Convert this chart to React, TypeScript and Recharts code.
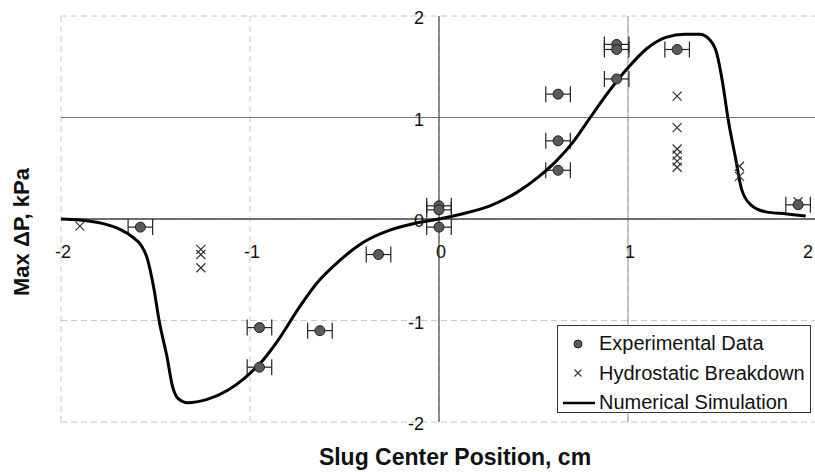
import React from 'react';
import { ScatterChart, Scatter, XAxis, YAxis, CartesianGrid, ReferenceLine, ErrorBar, Legend } from 'recharts';

const xTicks = [-2, -1, 0, 1, 2];
const yTicks = [-2, -1, 0, 1, 2];
const xError = 0.065;

const experimentalData = [
  { x: -1.58, y: -0.08 },
  { x: -0.95, y: -1.07 },
  { x: -0.95, y: -1.46 },
  { x: -0.63, y: -1.1 },
  { x: -0.32, y: -0.35 },
  { x: 0.0, y: 0.13 },
  { x: 0.0, y: 0.09 },
  { x: 0.0, y: -0.08 },
  { x: 0.63, y: 1.23 },
  { x: 0.63, y: 0.77 },
  { x: 0.63, y: 0.48 },
  { x: 0.94, y: 1.72 },
  { x: 0.94, y: 1.67 },
  { x: 0.94, y: 1.38 },
  { x: 1.26, y: 1.67 },
  { x: 1.9, y: 0.14 },
];

const hydrostaticData = [
  { x: -1.9, y: -0.07 },
  { x: -1.26, y: -0.3 },
  { x: -1.26, y: -0.35 },
  { x: -1.26, y: -0.48 },
  { x: 1.26, y: 1.21 },
  { x: 1.26, y: 0.9 },
  { x: 1.26, y: 0.69 },
  { x: 1.26, y: 0.63 },
  { x: 1.26, y: 0.57 },
  { x: 1.26, y: 0.51 },
  { x: 1.59, y: 0.52 },
  { x: 1.59, y: 0.42 },
  { x: 1.9, y: 0.17 },
];

const simulationData = [
  { x: -2.0, y: 0.0 },
  { x: -1.9, y: -0.01 },
  { x: -1.79, y: -0.04 },
  { x: -1.69, y: -0.1 },
  { x: -1.62, y: -0.18 },
  { x: -1.58, y: -0.25 },
  { x: -1.545, y: -0.38 },
  { x: -1.51, y: -0.67 },
  { x: -1.48, y: -1.01 },
  { x: -1.44, y: -1.35 },
  { x: -1.41, y: -1.65 },
  { x: -1.38, y: -1.77 },
  { x: -1.33, y: -1.81 },
  { x: -1.23, y: -1.78 },
  { x: -1.12, y: -1.69 },
  { x: -1.03, y: -1.57 },
  { x: -0.95, y: -1.43 },
  { x: -0.85, y: -1.19 },
  { x: -0.75, y: -0.9 },
  { x: -0.65, y: -0.64 },
  { x: -0.52, y: -0.4 },
  { x: -0.4, y: -0.23 },
  { x: -0.26, y: -0.11 },
  { x: -0.12, y: -0.04 },
  { x: 0.0, y: 0.0 },
  { x: 0.12, y: 0.05 },
  { x: 0.27, y: 0.13 },
  { x: 0.41, y: 0.26 },
  { x: 0.53, y: 0.42 },
  { x: 0.62, y: 0.57 },
  { x: 0.71, y: 0.76 },
  { x: 0.8, y: 1.0 },
  { x: 0.9, y: 1.26 },
  { x: 1.0, y: 1.49 },
  { x: 1.1, y: 1.68 },
  { x: 1.2, y: 1.79 },
  { x: 1.3, y: 1.82 },
  { x: 1.38, y: 1.82 },
  { x: 1.43, y: 1.77 },
  { x: 1.47, y: 1.63 },
  { x: 1.5, y: 1.35 },
  { x: 1.53, y: 0.98 },
  { x: 1.57, y: 0.59 },
  { x: 1.6, y: 0.3 },
  { x: 1.65, y: 0.14 },
  { x: 1.73, y: 0.07 },
  { x: 1.84, y: 0.05 },
  { x: 1.94, y: 0.03 },
];

const legendLabels = ['Experimental Data', 'Hydrostatic Breakdown', 'Numerical Simulation'];

const CHART_W = 830;
const CHART_H = 472;
const VISIBLE_W = 815;
const X_AXIS_H = 30;
const Y_AXIS_W = 30;
const M = { top: 16, right: 13, bottom: 50 - X_AXIS_H, left: 61 - Y_AXIS_W };
const PLOT_LEFT = M.left + Y_AXIS_W;
const PLOT_BOTTOM_PAD = M.bottom + X_AXIS_H;
const ZERO_X = PLOT_LEFT + (CHART_W - PLOT_LEFT - M.right) / 2;
const ZERO_Y = M.top + (CHART_H - M.top - PLOT_BOTTOM_PAD) / 2;
const FONT = '"Liberation Sans", Arial, sans-serif';

const XTick = (props: any) => {
  const { x, payload } = props;
  const atEdge = x + 10 > VISIBLE_W;
  return (
    <text
      x={atEdge ? VISIBLE_W - 2 : x + 2}
      y={ZERO_Y + 39}
      textAnchor={atEdge ? 'end' : 'middle'}
      fontSize={18}
      fontFamily={FONT}
      fill="#111"
    >
      {payload.value}
    </text>
  );
};

const YTick = (props: any) => {
  const { y, payload } = props;
  return (
    <text x={ZERO_X - 15} y={y + 2} textAnchor="end" dominantBaseline="central" fontSize={18} fontFamily={FONT} fill="#111">
      {payload.value}
    </text>
  );
};

const renderDot = (props: any) => (
  <circle cx={props.cx} cy={props.cy} r={5} fill="#5a5a5a" stroke="#222" strokeWidth={1} />
);

const renderCross = (props: any) => {
  const { cx, cy } = props;
  const s = 4.5;
  return (
    <g stroke="#333" strokeWidth={1.2}>
      <line x1={cx - s} y1={cy - s} x2={cx + s} y2={cy + s} />
      <line x1={cx - s} y1={cy + s} x2={cx + s} y2={cy - s} />
    </g>
  );
};

const renderNone = () => <g />;

const LegendBox = () => (
  <div
    style={{
      width: 254,
      height: 88,
      boxSizing: 'border-box',
      border: '1px solid #333',
      background: '#fff',
      paddingTop: 3,
      fontFamily: FONT,
      fontSize: 20,
      color: '#111',
    }}
  >
    {legendLabels.map((label, i) => (
      <div key={label} style={{ display: 'flex', alignItems: 'center', height: 29.5 }}>
        <svg width={41} height={20} style={{ flex: '0 0 auto' }}>
          {i === 0 && <circle cx={20} cy={10} r={4} fill="#5a5a5a" stroke="#222" strokeWidth={1} />}
          {i === 1 && (
            <g stroke="#333" strokeWidth={1.1}>
              <line x1={16.5} y1={6.5} x2={23.5} y2={13.5} />
              <line x1={16.5} y1={13.5} x2={23.5} y2={6.5} />
            </g>
          )}
          {i === 2 && <line x1={5} y1={10} x2={37} y2={10} stroke="#000" strokeWidth={2.5} />}
        </svg>
        <span style={{ whiteSpace: 'nowrap' }}>{label}</span>
      </div>
    ))}
  </div>
);

export default function App() {
  const expWithErr = experimentalData.map((p) => ({ ...p, err: xError }));
  return (
    <div style={{ position: 'absolute', left: 0, top: 0, width: VISIBLE_W, height: 472, overflow: 'hidden', background: '#fff' }}>
      <ScatterChart width={CHART_W} height={CHART_H} margin={M}>
        <CartesianGrid stroke="#c8c8c8" strokeDasharray="6 4" />
        <XAxis
          type="number"
          dataKey="x"
          domain={[-2, 2]}
          ticks={xTicks}
          interval={0}
          height={X_AXIS_H}
          axisLine={false}
          tickLine={false}
          tick={XTick}
          allowDataOverflow
        />
        <YAxis
          type="number"
          dataKey="y"
          domain={[-2, 2]}
          ticks={yTicks}
          interval={0}
          width={Y_AXIS_W}
          axisLine={false}
          tickLine={false}
          tick={YTick}
          allowDataOverflow
        />
        <ReferenceLine y={1} stroke="#777" strokeWidth={1.2} />
        <ReferenceLine x={1} stroke="#999" strokeWidth={1} />
        <ReferenceLine y={0} stroke="#444" strokeWidth={1.6} />
        <ReferenceLine x={0} stroke="#555" strokeWidth={1.3} />
        <Scatter
          name="Numerical Simulation"
          data={simulationData}
          line={{ stroke: '#000', strokeWidth: 3 }}
          lineJointType="monotoneX"
          shape={renderNone}
          isAnimationActive={false}
        />
        <Scatter name="Hydrostatic Breakdown" data={hydrostaticData} shape={renderCross} isAnimationActive={false} />
        <Scatter name="Experimental Data" data={expWithErr} shape={renderDot} isAnimationActive={false}>
          <ErrorBar dataKey="err" direction="x" width={8} stroke="#222" strokeWidth={1.2} />
        </Scatter>
        <Legend
          layout="vertical"
          align="center"
          verticalAlign="middle"
          content={<LegendBox />}
          wrapperStyle={{ left: 557, top: 325, width: 254, height: 88 }}
        />
        <text x={455} y={465} textAnchor="middle" fontSize={23} fontWeight="bold" fontFamily={FONT} fill="#111">
          Slug Center Position, cm
        </text>
        <text
          transform="rotate(-90)"
          x={-232}
          y={29}
          textAnchor="middle"
          fontSize={22}
          fontWeight="bold"
          fontFamily={FONT}
          fill="#111"
        >
          Max ΔP, kPa
        </text>
      </ScatterChart>
    </div>
  );
}
